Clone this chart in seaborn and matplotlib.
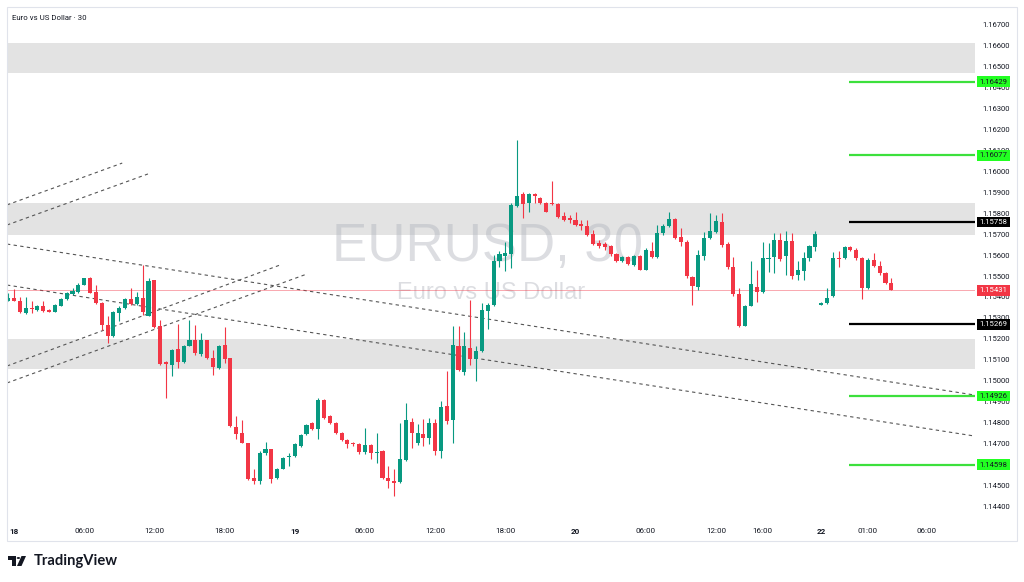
import numpy as np
import pandas as pd
import matplotlib
matplotlib.use('Agg')
import matplotlib.pyplot as plt
import seaborn as sns
from matplotlib import transforms
from matplotlib.ticker import FormatStrFormatter
from matplotlib.patches import Rectangle, Polygon, Circle

sns.set_theme(style='white')
plt.rcParams['font.family'] = ['Roboto', 'DejaVu Sans']

# EURUSD 30 min candles, first one is the 17th 23:30 (bar -1)
first_bar = -1
opens = [
    1.15383, 1.15394, 1.15383, 1.15323, 1.15347, 1.15339, 1.15358, 1.15339, 1.15328, 1.15359,
    1.15390, 1.15415, 1.15423, 1.15458, 1.15490, 1.15423, 1.15371, 1.15264, 1.15215, 1.15323,
    1.15347, 1.15390, 1.15366, 1.15394, 1.15310, 1.15479, 1.15262, 1.15088, 1.15076, 1.15151,
    1.15088, 1.15167, 1.15196, 1.15129, 1.15193, 1.15108, 1.15061, 1.15172, 1.15108, 1.14779,
    1.14750, 1.14700, 1.14536, 1.14520, 1.14652, 1.14671, 1.14536, 1.14579, 1.14634, 1.14639,
    1.14690, 1.14743, 1.14798, 1.14771, 1.14906, 1.14830, 1.14798, 1.14751, 1.14716, 1.14703,
    1.14699, 1.14659, 1.14691, 1.14656, 1.14664, 1.14536, 1.14521, 1.14516, 1.14619, 1.14802,
    1.14703, 1.14743, 1.14727, 1.14799, 1.14664, 1.14878, 1.14810, 1.15165, 1.15040, 1.15157,
    1.15104, 1.15141, 1.15335, 1.15360, 1.15570, 1.15597, 1.15607, 1.15835, 1.15893, 1.15851,
    1.15891, 1.15875, 1.15848, 1.15851, 1.15845, 1.15785, 1.15777, 1.15769, 1.15750, 1.15740,
    1.15702, 1.15657, 1.15651, 1.15642, 1.15607, 1.15573, 1.15589, 1.15554, 1.15597, 1.15530,
    1.15622, 1.15589, 1.15705, 1.15737, 1.15772, 1.15686, 1.15665, 1.15495, 1.15450, 1.15598,
    1.15680, 1.15712, 1.15760, 1.15652, 1.15542, 1.15415, 1.15262, 1.15358, 1.15450, 1.15423,
    1.15583, 1.15593, 1.15672, 1.15596, 1.15669, 1.15506, 1.15526, 1.15585, 1.15641, 1.15362,
    1.15370, 1.15405, 1.15588, 1.15585, 1.15638, 1.15625, 1.15585, 1.15442, 1.15577, 1.15548,
    1.15514, 1.15469]
highs = [
    1.15418, 1.15437, 1.15402, 1.15402, 1.15379, 1.15363, 1.15379, 1.15342, 1.15366, 1.15394,
    1.15426, 1.15442, 1.15469, 1.15492, 1.15495, 1.15458, 1.15374, 1.15307, 1.15331, 1.15355,
    1.15394, 1.15442, 1.15426, 1.15553, 1.15490, 1.15482, 1.15288, 1.15092, 1.15151, 1.15272,
    1.15172, 1.15291, 1.15267, 1.15227, 1.15196, 1.15148, 1.15172, 1.15256, 1.15110, 1.14833,
    1.14811, 1.14703, 1.14576, 1.14663, 1.14706, 1.14674, 1.14584, 1.14634, 1.14655, 1.14703,
    1.14743, 1.14795, 1.14803, 1.14917, 1.14912, 1.14838, 1.14803, 1.14756, 1.14720, 1.14708,
    1.14703, 1.14775, 1.14695, 1.14751, 1.14668, 1.14592, 1.14576, 1.14799, 1.14891, 1.14823,
    1.14791, 1.14815, 1.14823, 1.14815, 1.14902, 1.15045, 1.15260, 1.15260, 1.15231, 1.15387,
    1.15165, 1.15371, 1.15371, 1.15602, 1.15618, 1.15665, 1.15848, 1.16150, 1.15904, 1.15899,
    1.15896, 1.15880, 1.15856, 1.15952, 1.15848, 1.15808, 1.15793, 1.15804, 1.15769, 1.15769,
    1.15721, 1.15673, 1.15665, 1.15650, 1.15610, 1.15594, 1.15597, 1.15602, 1.15602, 1.15634,
    1.15665, 1.15745, 1.15750, 1.15808, 1.15777, 1.15729, 1.15670, 1.15498, 1.15625, 1.15712,
    1.15803, 1.15792, 1.15803, 1.15665, 1.15593, 1.15442, 1.15362, 1.15574, 1.15529, 1.15665,
    1.15657, 1.15704, 1.15704, 1.15717, 1.15707, 1.15574, 1.15617, 1.15649, 1.15717, 1.15374,
    1.15442, 1.15617, 1.15622, 1.15644, 1.15644, 1.15633, 1.15593, 1.15585, 1.15609, 1.15574,
    1.15521, 1.15490]
lows = [
    1.15379, 1.15379, 1.15323, 1.15320, 1.15323, 1.15331, 1.15326, 1.15326, 1.15326, 1.15358,
    1.15386, 1.15410, 1.15421, 1.15456, 1.15418, 1.15367, 1.15243, 1.15180, 1.15210, 1.15283,
    1.15342, 1.15363, 1.15363, 1.15315, 1.15307, 1.15251, 1.15076, 1.14917, 1.15021, 1.15061,
    1.15084, 1.15164, 1.15124, 1.15119, 1.15103, 1.15029, 1.15056, 1.15084, 1.14779, 1.14719,
    1.14700, 1.14525, 1.14504, 1.14504, 1.14647, 1.14512, 1.14528, 1.14576, 1.14591, 1.14634,
    1.14685, 1.14738, 1.14766, 1.14722, 1.14817, 1.14793, 1.14745, 1.14712, 1.14680, 1.14690,
    1.14648, 1.14648, 1.14624, 1.14608, 1.14530, 1.14489, 1.14449, 1.14513, 1.14616, 1.14680,
    1.14691, 1.14688, 1.14696, 1.14643, 1.14632, 1.14791, 1.14703, 1.15045, 1.15029, 1.15077,
    1.14998, 1.15136, 1.15249, 1.15355, 1.15543, 1.15522, 1.15538, 1.15832, 1.15777, 1.15804,
    1.15848, 1.15845, 1.15804, 1.15840, 1.15777, 1.15761, 1.15753, 1.15737, 1.15721, 1.15692,
    1.15650, 1.15634, 1.15626, 1.15597, 1.15565, 1.15565, 1.15554, 1.15549, 1.15527, 1.15527,
    1.15586, 1.15586, 1.15697, 1.15734, 1.15676, 1.15642, 1.15490, 1.15363, 1.15434, 1.15577,
    1.15676, 1.15707, 1.15638, 1.15533, 1.15405, 1.15256, 1.15259, 1.15355, 1.15378, 1.15418,
    1.15521, 1.15514, 1.15574, 1.15506, 1.15485, 1.15479, 1.15482, 1.15574, 1.15622, 1.15361,
    1.15367, 1.15399, 1.15545, 1.15580, 1.15622, 1.15577, 1.15389, 1.15437, 1.15542, 1.15506,
    1.15463, 1.15431]
closes = [
    1.15394, 1.15382, 1.15326, 1.15347, 1.15342, 1.15359, 1.15331, 1.15329, 1.15363, 1.15390,
    1.15421, 1.15429, 1.15458, 1.15490, 1.15421, 1.15371, 1.15267, 1.15215, 1.15326, 1.15347,
    1.15390, 1.15366, 1.15398, 1.15326, 1.15474, 1.15256, 1.15081, 1.15080, 1.15145, 1.15088,
    1.15167, 1.15196, 1.15132, 1.15196, 1.15108, 1.15065, 1.15164, 1.15103, 1.14782, 1.14747,
    1.14703, 1.14531, 1.14520, 1.14652, 1.14671, 1.14531, 1.14579, 1.14628, 1.14639, 1.14698,
    1.14738, 1.14790, 1.14771, 1.14909, 1.14822, 1.14798, 1.14750, 1.14716, 1.14696, 1.14696,
    1.14659, 1.14691, 1.14656, 1.14660, 1.14536, 1.14521, 1.14513, 1.14624, 1.14810, 1.14748,
    1.14748, 1.14727, 1.14799, 1.14664, 1.14874, 1.14807, 1.15172, 1.15053, 1.15165, 1.15104,
    1.15141, 1.15339, 1.15360, 1.15570, 1.15607, 1.15610, 1.15840, 1.15883, 1.15845, 1.15893,
    1.15883, 1.15848, 1.15808, 1.15845, 1.15781, 1.15769, 1.15766, 1.15742, 1.15737, 1.15697,
    1.15654, 1.15645, 1.15638, 1.15607, 1.15570, 1.15589, 1.15557, 1.15594, 1.15530, 1.15626,
    1.15591, 1.15705, 1.15737, 1.15772, 1.15681, 1.15661, 1.15498, 1.15451, 1.15601, 1.15680,
    1.15715, 1.15765, 1.15649, 1.15545, 1.15415, 1.15262, 1.15358, 1.15463, 1.15426, 1.15588,
    1.15588, 1.15672, 1.15582, 1.15669, 1.15498, 1.15529, 1.15585, 1.15644, 1.15701, 1.15370,
    1.15397, 1.15585, 1.15580, 1.15641, 1.15625, 1.15585, 1.15442, 1.15577, 1.15548, 1.15514,
    1.15469, 1.15431]

tick_bars = [0, 12, 24, 36, 48, 60, 72, 84, 96, 108, 120, 128, 138, 146, 156]
tick_labels = ['18', '06:00', '12:00', '18:00', '19', '06:00', '12:00', '18:00',
               '20', '06:00', '12:00', '16:00', '22', '01:00', '06:00']

zones = [(1.16470, 1.16614), (1.15695, 1.15848), (1.15054, 1.15198)]
green_levels = [1.16429, 1.16077, 1.14926, 1.14598]
black_levels = [1.15758, 1.15269]
last_price = 1.15431
level_start = 142.7
# dashed trend lines: (bar0, price0, bar1, price1)
trend_lines = [
    (-1.2, 1.15840, 18.5, 1.16040),
    (-1.2, 1.15744, 22.9, 1.15988),
    (-1.2, 1.15070, 45.5, 1.15553),
    (-1.2, 1.14989, 50.1, 1.15510),
    (-1.2, 1.15653, 164.3, 1.14931),
    (-1.2, 1.15457, 164.3, 1.14735),
]

df = pd.DataFrame({'open': opens, 'high': highs, 'low': lows, 'close': closes})
df['bar'] = np.arange(first_bar, first_bar + len(df))
df['up'] = df['close'] >= df['open']

UP, DOWN = '#089981', '#f23645'
TXT = '#131722'

fig = plt.figure(figsize=(10.24, 5.82), dpi=100)
ax = fig.add_axes([7 / 1024, 1 - 520 / 582, 968 / 1024, 513 / 582])
ax.set_facecolor('white')
ax.set_xlim(-1.2, 164.3)
ax.set_ylim(1.14334, 1.16786)

for lo, hi in zones:
    ax.axhspan(lo, hi, color='#e3e3e3', lw=0, zorder=0)

# watermark
ax.text(0.496, 0.532, 'EURUSD, 30', transform=ax.transAxes, ha='center', va='center',
        fontsize=38, family='Liberation Sans', color='#b2b5be', alpha=0.45, zorder=1)
ax.text(0.5, 0.442, 'Euro vs US Dollar', transform=ax.transAxes, ha='center', va='center',
        fontsize=17, family='Liberation Sans', color='#b2b5be', alpha=0.45, zorder=1)

for x0, y0, x1, y1 in trend_lines:
    ax.plot([x0, x1], [y0, y1], color='#555555', lw=0.8, ls=(0, (3, 3)), zorder=2)

ax.axhline(last_price, color=DOWN, lw=0.6, alpha=0.5, zorder=2)

colors = np.where(df['up'], UP, DOWN)
ax.vlines(df['bar'], df['low'], df['high'], colors=colors, lw=0.8, zorder=3)
body = (df['close'] - df['open']).abs().clip(lower=0.00004)
ax.bar(df['bar'], body, bottom=np.minimum(df['open'], df['close']), width=0.7,
       color=colors, lw=0, zorder=4)

xmax = ax.get_xlim()[1]
ax.hlines(green_levels, level_start, xmax, colors='#3ce03c', lw=1.6, zorder=5)
ax.hlines(black_levels, level_start, xmax, colors='black', lw=1.6, zorder=5)

# price axis: the scale labels hidden under a price tag are left out
tags = green_levels + black_levels + [last_price]
yticks = [t for t in np.round(np.arange(1.144, 1.1675, 0.001), 3)
          if min(abs(t - p) for p in tags) > 0.00015]
ax.yaxis.tick_right()
ax.set_yticks(yticks)
ax.yaxis.set_major_formatter(FormatStrFormatter('%.5f'))
ax.tick_params(axis='y', length=0, pad=5.5, labelsize=5.5, labelcolor=TXT)
ax.set_xticks(tick_bars, tick_labels)
ax.tick_params(axis='x', length=0, pad=6, labelsize=5.8, labelcolor=TXT)
for lab in ax.get_xticklabels():
    if ':' not in lab.get_text():
        lab.set_fontweight('bold')
sns.despine(ax=ax, left=True, bottom=True, right=True, top=True)
ax.grid(False)

trans = transforms.blended_transform_factory(ax.transAxes, ax.transData)


def price_tag(p, fc, tc):
    ax.text(1.0045, p, f'{p:.5f}', transform=trans, ha='left', va='center', fontsize=5.6,
            color=tc, clip_on=False, zorder=10,
            bbox=dict(boxstyle='square,pad=0.3', fc=fc, ec='none'))


for p in green_levels:
    price_tag(p, '#22ff22', TXT)
for p in black_levels:
    price_tag(p, 'black', 'white')
price_tag(last_price, DOWN, 'white')

# chart frame and header
fig.add_artist(Rectangle((7 / 1024, 1 - 541 / 582), 1010 / 1024, 534 / 582,
                         transform=fig.transFigure, fill=False, ec='#e0e3eb', lw=0.8))
fig.text(12 / 1024, 1 - 18 / 582, 'Euro vs US Dollar \u00b7 30', fontsize=5.7,
         color=TXT, va='center')


def px(x, y):
    return (x / 1024, 1 - y / 582)


# TradingView logo
logo = dict(transform=fig.transFigure, color=TXT, lw=0)
fig.add_artist(Polygon([px(8, 556), px(16, 556), px(16, 566), px(12, 566), px(12, 559.5),
                        px(8, 559.5)], **logo))
fig.add_artist(Circle(px(18.4, 558), 1.7 / 1024, **logo))
fig.add_artist(Polygon([px(21.5, 556), px(26, 556), px(21.5, 566), px(17, 566)], **logo))
fig.text(34 / 1024, 1 - 561 / 582, 'TradingView', fontsize=10.6, fontweight='bold',
         family=['Lato', 'DejaVu Sans'], color=TXT, va='center')

fig.savefig('out.png', dpi=100, facecolor='white')
